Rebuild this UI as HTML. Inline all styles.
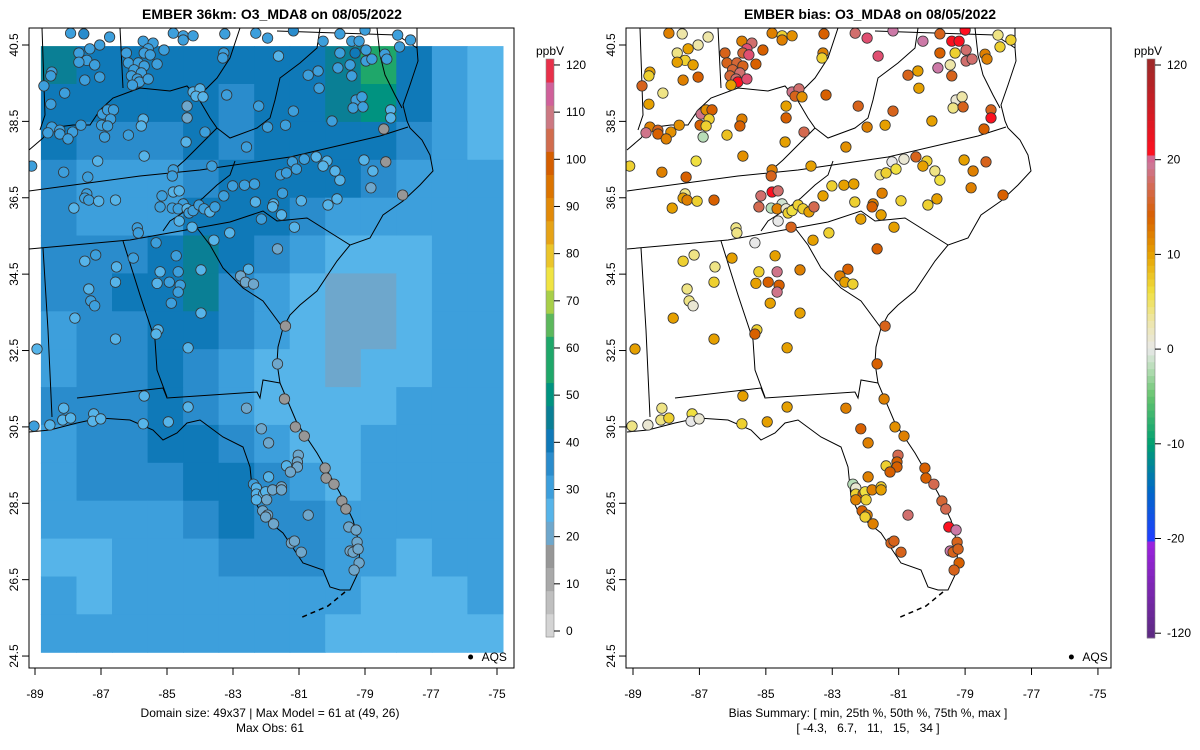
<!DOCTYPE html>
<html><head><meta charset="utf-8">
<style>
html,body{margin:0;padding:0;background:#fff;}
svg{display:block;font-family:"Liberation Sans",Arial,sans-serif;}
</style></head>
<body>
<svg id="fig" width="1200" height="750" viewBox="0 0 1200 750" xmlns="http://www.w3.org/2000/svg">
<defs>
<clipPath id="clipL"><rect x="29" y="28" width="485" height="640"/></clipPath>
<clipPath id="clipR"><rect x="626" y="28" width="485" height="640"/></clipPath>
</defs>
<text x="272" y="19" text-anchor="middle" font-size="14" font-weight="bold">EMBER 36km: O3_MDA8 on 08/05/2022</text>
<text x="870" y="19" text-anchor="middle" font-size="14" font-weight="bold">EMBER bias: O3_MDA8 on 08/05/2022</text>
<g id="left"></g>
<g id="right"></g>
<text x="270" y="717" text-anchor="middle" font-size="12">Domain size: 49x37 | Max Model = 61 at (49, 26)</text>
<text x="270" y="732" text-anchor="middle" font-size="12">Max Obs: 61</text>
<text x="868" y="717" text-anchor="middle" font-size="12">Bias Summary: [ min, 25th %, 50th %, 75th %, max ]</text>
<text x="868" y="732" text-anchor="middle" font-size="12" xml:space="preserve">[ -4.3,   6.7,   11,   15,   34 ]</text>
</svg>
<script>
// ---- data ----
const gridRows = [
[46,42,42,44,42,40,42,42,48,55,40,33,29],
[44,42,40,44,42,38,42,44,46,50,40,32,29],
[40,38,36,38,40,36,40,44,42,44,38,32,29],
[36,33,32,34,38,40,42,44,42,38,34,32,31],
[36,34,33,33,40,44,40,38,34,31,30,32,32],
[38,35,36,42,46,40,35,30,27,26,28,32,33],
[36,38,40,42,48,38,32,28,24,23,28,32,34],
[34,36,38,40,42,36,30,27,22,22,28,32,33],
[34,36,38,40,38,32,29,27,24,25,28,32,32],
[36,36,38,40,38,32,29,27,27,28,30,33,32],
[34,36,38,42,42,38,30,29,29,30,32,32,31],
[34,36,36,38,42,44,36,30,29,32,32,31,30],
[32,30,30,32,38,40,38,36,34,32,30,30,31],
[29,28,30,32,34,36,38,38,32,30,29,30,31],
[30,29,30,32,33,33,32,32,30,29,29,29,30],
[30,31,32,33,33,33,32,32,29,28,28,29,29]
];
const gridLon = [-88.82,-74.82];
const gridLat = [40.47,24.6];
const xTicks = [-89,-87,-85,-83,-81,-79,-77,-75];
const yTicks = [40.5,38.5,36.5,34.5,32.5,30.5,28.5,26.5,24.5];
const obsTicks = [0,10,20,30,40,50,60,70,80,90,100,110,120];
const biasTicks = [-120,-20,-10,0,10,20,120];
const stLon = [-87.92,-87.52,-86.74,-87.04,-87.34,-87.67,-87.43,-87.67,-87.19,-88.49,-88.52,-87.49,-87.04,-88.73,-88.1,-88.52,-85.72,-85.42,-85.57,-86.23,-85.69,-85.09,-85.51,-86.17,-85.87,-85.3,-86.0,-85.69,-85.78,-86.08,-85.9,-85.84,-85.57,-86.05,-84.81,-84.51,-84.51,-84.21,-83.25,-83.28,-83.31,-82.31,-81.95,-81.62,-81.17,-84.21,-84.0,-84.12,-83.91,-83.19,-82.22,-81.17,-84.39,-84.39,-83.85,-84.42,-85.72,-85.78,-86.95,-86.8,-86.62,-86.71,-86.98,-86.8,-86.89,-87.61,-88.49,-88.25,-88.61,-88.25,-87.86,-88.0,-86.17,-85.69,-87.1,-88.13,-87.4,-89.1,-84.81,-84.84,-83.64,-82.59,-81.95,-81.41,-80.72,-80.42,-80.39,-80.0,-79.82,-79.45,-79.76,-80.27,-79.76,-79.4,-79.18,-78.97,-79.3,-78.97,-78.79,-79.4,-78.4,-78.34,-78.01,-77.62,-77.95,-79.0,-79.27,-79.09,-79.36,-79.06,-78.22,-78.22,-78.43,-81.2,-80.84,-80.48,-80.15,-80.27,-79.91,-79.76,-79.03,-78.37,-78.76,-78.82,-77.86,-81.56,-81.38,-81.08,-83.01,-82.65,-82.35,-81.5,-82.32,-81.77,-81.8,-80.93,-80.12,-79.85,-81.53,-82.14,-81.14,-83.1,-83.58,-81.65,-82.53,-82.77,-82.62,-82.38,-81.41,-84.81,-84.63,-85.15,-85.21,-84.84,-84.51,-84.66,-84.39,-84.33,-84.21,-84.03,-83.88,-83.7,-83.55,-83.28,-84.63,-84.24,-85.9,-85.87,-85.33,-87.43,-87.49,-87.37,-87.07,-86.56,-87.82,-87.16,-87.49,-86.53,-86.56,-86.02,-85.21,-84.72,-84.66,-85.3,-84.93,-84.6,-84.66,-84.87,-83.97,-83.97,-87.37,-87.31,-87.19,-87.79,-88.94,-86.56,-85.27,-85.33,-84.36,-81.65,-81.44,-85.69,-84.36,-82.59,-88.13,-88.16,-87.92,-88.55,-89.03,-87.22,-87.25,-87.01,-85.72,-84.96,-82.14,-81.92,-81.11,-80.84,-81.02,-81.05,-81.05,-81.38,-81.26,-81.92,-80.21,-80.18,-79.94,-79.7,-79.58,-82.38,-82.29,-82.29,-82.07,-82.01,-81.8,-81.53,-81.53,-81.98,-82.29,-82.1,-81.95,-82.01,-81.77,-80.72,-79.49,-79.27,-79.24,-79.45,-79.36,-79.21,-79.18,-79.33,-81.23,-81.14,-80.93];
const stLat = [40.81,40.79,40.71,40.5,40.4,40.29,40.1,40.05,39.98,39.79,39.69,39.58,39.66,39.43,39.24,38.95,40.6,40.55,40.4,40.29,40.29,40.37,40.24,40.03,40.03,40.0,39.85,39.95,39.77,39.69,39.61,39.53,39.61,39.45,40.81,40.74,40.63,40.74,40.79,40.29,40.16,40.81,40.68,40.21,40.87,39.27,39.35,39.16,39.14,39.19,38.9,38.77,38.9,38.59,38.22,37.96,38.56,38.38,38.69,38.8,38.8,38.56,38.4,38.38,38.09,38.4,38.35,38.27,38.2,38.17,38.22,38.04,38.14,37.59,37.46,37.17,37.04,37.33,37.23,37.07,37.33,37.83,38.35,38.4,39.71,39.82,39.37,38.51,39.9,39.98,40.29,40.6,40.79,40.6,40.6,40.37,40.29,40.08,40.13,39.69,40.26,40.13,40.76,40.63,40.45,40.89,39.06,39.14,38.85,38.88,38.8,38.59,38.3,37.44,37.51,37.57,37.46,37.33,37.2,36.96,37.49,37.44,37.2,36.76,36.57,37.1,37.15,37.25,36.81,36.83,36.86,36.62,36.39,36.34,36.26,36.42,36.31,36.47,36.05,35.94,35.73,35.58,35.39,35.16,34.63,34.45,34.29,34.24,33.14,36.65,36.68,36.55,36.26,36.23,36.34,36.21,36.21,36.1,36.16,36.31,36.21,36.13,36.26,36.55,35.89,35.73,35.71,35.58,35.32,36.6,36.49,36.44,36.41,36.44,36.23,35.0,34.84,34.69,34.29,34.92,34.56,34.98,34.56,34.26,34.29,34.21,34.03,33.74,34.61,33.48,34.11,33.8,33.67,33.35,32.54,32.8,33.04,32.93,32.57,32.15,31.23,31.31,31.02,30.99,30.99,30.68,30.73,30.55,30.52,30.84,30.65,30.71,30.58,30.63,30.45,30.08,30.5,30.26,29.76,29.58,29.45,29.48,29.32,29.19,29.42,29.16,29.0,28.56,28.35,29.0,28.9,28.74,28.74,28.8,28.85,28.93,28.85,28.59,28.59,28.3,28.19,28.14,27.96,28.19,27.88,27.8,27.48,27.25,27.22,27.3,26.94,26.75,27.46,27.51,27.22];
const stObs = [34,36,34,32,34,32,34,32,32,31,31,31,31,31,32,30,34,32,31,32,31,30,30,31,30,30,31,30,31,30,30,30,30,30,34,34,32,32,32,31,31,34,32,29,36,26,28,28,28,31,30,30,24,24,30,29,28,28,31,31,30,31,31,30,31,30,31,31,30,30,31,30,30,28,29,30,31,30,30,31,31,31,31,30,32,32,34,31,32,34,32,32,31,32,34,34,40,34,32,34,32,32,34,34,34,34,34,34,31,31,28,26,18,30,30,28,28,28,28,28,26,18,28,24,18,30,30,30,31,31,31,30,28,29,29,28,28,28,28,30,28,28,28,24,26,22,20,20,18,29,29,30,30,31,31,30,29,30,30,30,30,29,30,30,29,29,31,31,30,31,31,30,29,29,28,30,29,29,29,30,29,30,31,29,30,30,30,30,28,28,29,30,30,28,28,28,28,28,28,20,18,28,28,22,29,28,28,28,34,28,28,28,28,28,22,22,18,18,20,20,20,26,24,26,18,18,18,18,18,34,28,26,26,26,24,22,22,24,26,24,24,24,24,20,20,20,20,20,20,20,20,20,20,20,22];
const stBias = [12,3,3,3,10,4,7,10,10,10,7,12,14,15,4,10,12,18,22,15,16,14,22,15,16,14,16,15,18,16,18,25,22,10,12,7,12,11,14,12,7,18,22,22,20,19,18,15,11,14,15,15,10,14,17,10,12,14,19,11,14,7,14,7,-2,11,12,15,19,14,11,12,8,11,6,12,14,7,12,15,10,11,12,10,15,10,10,10,20,3,14,20,15,30,30,18,7,18,18,15,12,12,4,7,7,25,1,3,4,15,15,28,14,0,1,15,7,10,4,6,10,15,12,12,14,4,7,6,7,10,10,12,7,12,14,7,7,10,10,10,10,7,10,14,14,12,10,7,15,25,18,18,17,-2,-1,12,1,7,6,7,7,10,17,10,0,15,4,4,0,4,10,12,7,14,10,4,7,4,7,10,7,10,19,10,14,14,19,10,12,10,4,4,1,10,10,10,7,14,10,14,12,10,10,12,4,4,7,1,4,6,0,1,7,10,14,12,11,12,17,14,14,7,14,12,14,14,17,16,17,-2,1,7,14,6,12,7,10,7,12,14,12,7,12,18,28,20,15,20,15,15,14,15,15,15,15];

// ---- colors ----
const obsColors = ["#e6e6e6","#d4d4d4","#bfbfbf","#a9a9a9","#979797","#6ea7cc","#56b4e9","#3d9fdc","#2a8ccc","#0f79b8","#0a7f95","#009380","#1fa76a","#5cb85c","#a8cf48","#f0e442","#ebc52a","#e6a316","#e28a08","#dc7400","#d55e00","#d16c4e","#cc7882","#d0609a","#e8304a","#ff0000"];
function obsColor(v){let i=Math.floor(v/5)+1; if(i<0)i=0; if(i>obsColors.length-1)i=obsColors.length-1; return obsColors[i];}
const biasStops=[[-120,"#5e2a84"],[-25,"#9b22e0"],[-20,"#2040ff"],[-15,"#0068c8"],[-10,"#00a070"],[-5,"#66c46e"],[-2,"#b8deb8"],[0,"#e8e8e8"],[3,"#eee6a8"],[6,"#f0e040"],[10,"#e6a000"],[14,"#d86000"],[17,"#d46a50"],[20,"#cc79a7"],[25,"#ff1020"],[120,"#a02828"]];
function hex2rgb(h){return [parseInt(h.slice(1,3),16),parseInt(h.slice(3,5),16),parseInt(h.slice(5,7),16)];}
function biasColor(v){
  if(v<=biasStops[0][0])return biasStops[0][1];
  for(let i=1;i<biasStops.length;i++){
    if(v<=biasStops[i][0]){const a=biasStops[i-1],b=biasStops[i];const t=(v-a[0])/(b[0]-a[0]);
      const ca=hex2rgb(a[1]),cb=hex2rgb(b[1]);
      return "rgb("+ca.map((c,k)=>Math.round(c+(cb[k]-c)*t)).join(",")+")";}
  }
  return biasStops[biasStops.length-1][1];
}

// ---- helpers ----
const NS="http://www.w3.org/2000/svg";
const svg=document.getElementById("fig");
function mk(tag,attrs,parent){const e=document.createElementNS(NS,tag);for(const k in attrs)e.setAttribute(k,attrs[k]);(parent||svg).appendChild(e);return e;}

const panels=[
 {g:document.getElementById("left"),x0:35,sx:33.0,box:[29,28,514,668],clip:"clipL",shift:0,mode:"obs",cbx:546,cbTitleX:550},
 {g:document.getElementById("right"),x0:633,sx:33.21,box:[626,28,1111,668],clip:"clipR",shift:598,mode:"bias",cbx:1147,cbTitleX:1148}
];
const y0=45, sy=38.19;

const outlines=[
 [[417,28],[417,48],[418,61],[410,85],[403,105],[407,121],[410,128],[422,140],[430,155],[433,171],[420,185],[403,201],[383,215],[370,238],[350,245],[337,261],[317,291],[300,305],[290,315],[283,328],[278,347],[277,363],[280,383],[297,423],[317,453],[340,493],[353,520],[360,547],[358,573],[350,590],[340,590],[330,587],[323,570],[303,563],[283,533],[263,517],[253,497],[250,467],[243,447],[223,437],[200,420],[187,423],[177,433],[163,440],[153,430],[130,420],[100,418],[77,423],[50,430],[29,432]],
 [[377,28],[380,55],[385,75],[395,95],[402,108]],
 [[29,191],[140,176],[200,170],[290,157],[380,136],[408,127]],
 [[29,249],[130,240],[197,228],[230,222],[263,211],[277,221],[307,218],[350,245]],
 [[163,231],[170,221],[187,210],[203,198],[217,185],[230,175],[235,161]],
 [[168,175],[185,160],[200,145],[217,128]],
 [[217,128],[230,138],[257,128],[270,118],[275,100],[280,78],[300,63],[317,48],[320,28]],
 [[29,150],[43,138],[50,128],[73,125],[90,125],[100,110],[113,98],[140,88],[170,91],[187,86],[200,101],[210,118],[217,128]],
 [[120,28],[123,88]],
 [[42,28],[45,115],[40,130]],
 [[240,28],[230,58],[217,78],[200,95]],
 [[277,31],[397,35],[417,48]],
 [[123,241],[140,295],[155,340],[157,370],[167,397]],
 [[43,248],[48,330],[52,417]],
 [[77,398],[163,388],[167,398],[257,392],[260,398],[263,380],[280,383]],
 [[197,228],[210,245],[223,268],[243,288],[263,301],[283,328]]
];

panels.forEach((p,pi)=>{
  const g=p.g;
  const X=lon=>p.x0+(lon+89)*p.sx;
  const Y=lat=>y0+(40.5-lat)*sy;
  const map=mk("g",{"clip-path":"url(#"+p.clip+")"},g);
  
  
  if(p.mode==="obs"){
    const nr=gridRows.length,nc=gridRows[0].length;
    const dLon=(gridLon[1]-gridLon[0])/nc,dLat=(gridLat[0]-gridLat[1])/nr;
    gridRows.forEach((row,r)=>row.forEach((v,c)=>{
      const xa=X(gridLon[0]+c*dLon),xb=X(gridLon[0]+(c+1)*dLon);
      const ya=Y(gridLat[0]-r*dLat),yb=Y(gridLat[0]-(r+1)*dLat);
      const cell=mk("rect",{x:xa.toFixed(1),y:ya.toFixed(1),width:(xb-xa+0.6).toFixed(1),height:(yb-ya+0.6).toFixed(1),fill:obsColor(v)},map);
      
      
    }));
  }
  const ol=mk("g",{transform:"translate("+p.shift+",0)",fill:"none",stroke:"#000","stroke-width":"1"},map);
  
  
  outlines.forEach(pts=>{mk("polyline",{points:pts.map(q=>q.join(",")).join(" ")},ol);});
  mk("polyline",{points:"345,592 328,606 300,618",fill:"none",stroke:"#000","stroke-width":"1.5","stroke-dasharray":"5,4"},ol);
  const sg=mk("g",{},map);
  
  
  stLon.forEach((lon,i)=>{
    const col=p.mode==="obs"?obsColor(stObs[i]):biasColor(stBias[i]);
    const c=mk("circle",{cx:X(lon).toFixed(1),cy:Y(stLat[i]).toFixed(1),r:"5.2",fill:col,stroke:"#333","stroke-width":"0.8"},sg);
    
    
  });
  const lg=mk("g",{},g);
  
  
  mk("circle",{cx:X(-75.8),cy:657,r:"2.5",fill:"#000"},lg);
  const lt=mk("text",{x:X(-75.8)+11,y:661,"font-size":"12"},lg); lt.textContent="AQS";
  const b=p.box;
  const bx=mk("rect",{x:b[0],y:b[1],width:b[2]-b[0],height:b[3]-b[1],fill:"none",stroke:"#000","stroke-width":"1"},g);
  
  
  xTicks.forEach(t=>{
    const x=X(t);
    mk("line",{x1:x,x2:x,y1:b[3],y2:b[3]+7,stroke:"#000"},g);
    const tx=mk("text",{x:x,y:b[3]+30,"text-anchor":"middle","font-size":"12"},g);
    
    
    tx.textContent=t;
  });
  yTicks.forEach(t=>{
    const y=Y(t);
    mk("line",{x1:b[0],x2:b[0]-7,y1:y,y2:y,stroke:"#000"},g);
    const ty=mk("text",{x:0,y:0,"text-anchor":"middle","font-size":"12",transform:"translate("+(b[0]-11)+","+y+") rotate(-90)"},g);
    
    
    ty.textContent=t.toFixed(1);
  });
  const cb=mk("g",{},g);
  
  
  const cx=p.cbx,w=8;
  const ct=mk("text",{x:p.cbTitleX,y:55,"text-anchor":"middle","font-size":"12"},cb); ct.textContent="ppbV";
  if(p.mode==="obs"){
    const yv=v=>631-v*4.717;
    const top=59,bot=637,n=25,h=(bot-top)/n;
    for(let i=0;i<n;i++){
      const ymid=bot-(i+0.5)*h; const v=(631-ymid)/4.717;
      mk("rect",{x:cx,y:(bot-(i+1)*h).toFixed(2),width:w,height:(h+0.4).toFixed(2),fill:obsColor(v)},cb);
    }
    mk("rect",{x:cx,y:top,width:w,height:bot-top,fill:"none",stroke:"#888","stroke-width":"0.6"},cb);
    obsTicks.forEach(t=>{const y=yv(t);mk("line",{x1:cx+w,x2:cx+w+6,y1:y,y2:y,stroke:"#000"},cb);
      const tt=mk("text",{x:cx+w+12,y:y+4,"font-size":"12"},cb);tt.textContent=t;});
  } else {
    const top=59,bot=638,step=94.7,yTop=65;
    const posOf=i=>yTop+(biasTicks.length-1-i)*step;
    const nSeg=84;
    for(let s=0;s<nSeg;s++){
      const ya=top+s*(bot-top)/nSeg, yb=ya+(bot-top)/nSeg, ym=(ya+yb)/2;
      let k=(yTop+(biasTicks.length-1)*step-ym)/step; if(k<0)k=0; if(k>biasTicks.length-1)k=biasTicks.length-1;
      const i0=Math.min(Math.floor(k),biasTicks.length-2), f=k-i0;
      const v=biasTicks[i0]+(biasTicks[i0+1]-biasTicks[i0])*f;
      mk("rect",{x:cx,y:ya.toFixed(2),width:w,height:((bot-top)/nSeg+0.4).toFixed(2),fill:biasColor(v)},cb);
    }
    mk("rect",{x:cx,y:top,width:w,height:bot-top,fill:"none",stroke:"#888","stroke-width":"0.6"},cb);
    biasTicks.forEach((t,i)=>{const y=posOf(i);mk("line",{x1:cx+w,x2:cx+w+6,y1:y,y2:y,stroke:"#000"},cb);
      const tt=mk("text",{x:cx+w+12,y:y+4,"font-size":"12"},cb);tt.textContent=t;});
  }
});
</script>
</body></html>
